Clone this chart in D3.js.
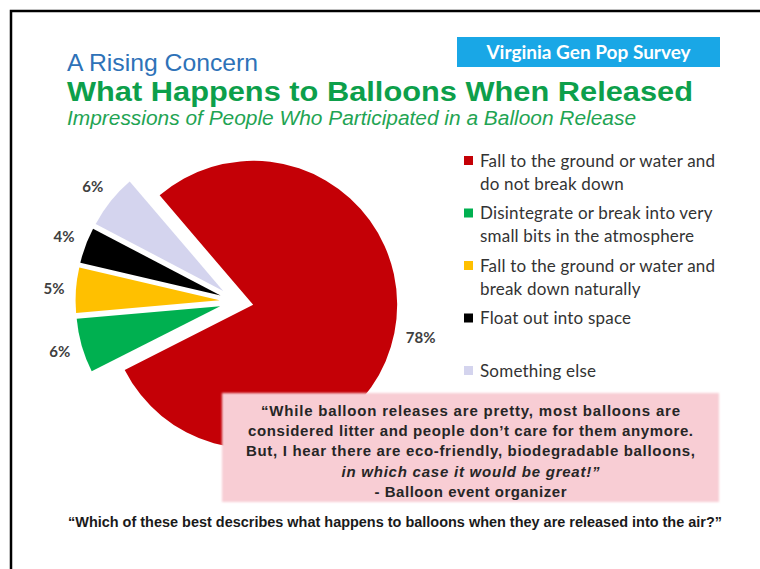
<!DOCTYPE html>
<html>
<head>
<meta charset="utf-8">
<script src="https://cdn.jsdelivr.net/npm/d3@7"></script>
<style>
  html, body { margin: 0; padding: 0; background: #fff; }
  svg { display: block; }
</style>
</head>
<body>
<script>
// Survey answers: share of respondents choosing each option (%)
const categories = [
  "Fall to the ground or water and do not break down",
  "Disintegrate or break into very small bits in the atmosphere",
  "Fall to the ground or water and break down naturally",
  "Float out into space",
  "Something else"
];
const legendLines = [
  ["Fall to the ground or water and", "do not break down"],
  ["Disintegrate or break into very", "small bits in the atmosphere"],
  ["Fall to the ground or water and", "break down naturally"],
  ["Float out into space"],
  ["Something else"]
];
const values = [78, 6, 5, 4, 6];
const sliceColors = ["#c40006", "#00b050", "#ffc000", "#000000", "#d4d4ee"];

const quoteLines = [
  "\u201CWhile balloon releases are pretty, most balloons are",
  "considered litter and people don\u2019t care for them anymore.",
  "But, I hear there are eco-friendly, biodegradable balloons,",
  "in which case it would be great!\u201D",
  "- Balloon event organizer"
];
// set widths of the quote lines, in px
const quoteWidths = [419, 445, 449, 258, 192];
const question = "\u201CWhich of these best describes what happens to balloons when they are released into the air?\u201D";

const W = 760, H = 569;
const svg = d3.select("body").append("svg").attr("width", W).attr("height", H);

// slide frame
svg.append("path")
  .attr("d", `M11,${H} V11 H${W}`)
  .attr("fill", "none").attr("stroke", "#000").attr("stroke-width", 2.5);

// headings
svg.append("text").attr("x", 67).attr("y", 71)
  .attr("font-family", "'Liberation Sans', Arial, sans-serif")
  .attr("font-size", 24).attr("fill", "#2e72b8")
  .attr("textLength", 191).attr("lengthAdjust", "spacingAndGlyphs")
  .text("A Rising Concern");

svg.append("text").attr("x", 67).attr("y", 101)
  .attr("font-family", "'Liberation Sans', Arial, sans-serif")
  .attr("font-weight", "bold").attr("font-size", 27).attr("fill", "#0d9f4b")
  .attr("textLength", 626).attr("lengthAdjust", "spacingAndGlyphs")
  .text("What Happens to Balloons When Released");

svg.append("text").attr("x", 67).attr("y", 125)
  .attr("font-family", "'Liberation Sans Narrow', 'Arial Narrow', 'Liberation Sans', sans-serif")
  .attr("font-style", "italic").attr("font-size", 20).attr("fill", "#1fa453")
  .attr("textLength", 569).attr("lengthAdjust", "spacingAndGlyphs")
  .text("Impressions of People Who Participated in a Balloon Release");

// survey badge
svg.append("rect").attr("x", 457).attr("y", 37).attr("width", 263).attr("height", 30)
  .attr("fill", "#19a7e6");
svg.append("text").attr("x", 588.5).attr("y", 58.5)
  .attr("text-anchor", "middle")
  .attr("font-family", "Lato, 'Open Sans', sans-serif")
  .attr("font-weight", "bold").attr("font-size", 19).attr("fill", "#fff")
  .text("Virginia Gen Pop Survey");

// exploded pie
const cx = 236.5, cy = 301.5, R = 144, explode = 17;
const start = -40.5 * Math.PI / 180;
const pie = d3.pie().sort(null).value(d => d)
  .startAngle(start).endAngle(start + 2 * Math.PI);
const arc = d3.arc().innerRadius(0).outerRadius(R);
const arcs = pie(values);

const slices = svg.append("g");
arcs.forEach((a, i) => {
  const mid = (a.startAngle + a.endAngle) / 2;
  const ox = cx + explode * Math.sin(mid), oy = cy - explode * Math.cos(mid);
  slices.append("path")
    .attr("transform", `translate(${ox},${oy})`)
    .attr("d", arc(a))
    .attr("fill", sliceColors[i]);

  const lbl = svg.append("text")
    .attr("font-family", "Lato, 'Open Sans', sans-serif")
    .attr("font-weight", "bold").attr("font-size", 15).attr("fill", "#404040")
    .attr("text-anchor", "middle")
    .text(values[i] + "%");
  const bw = lbl.node().getComputedTextLength();
  const dist = R + 11 + (bw / 2) * Math.abs(Math.sin(mid)) + 6 * Math.abs(Math.cos(mid));
  lbl.attr("x", ox + dist * Math.sin(mid))
     .attr("y", oy - dist * Math.cos(mid) + 5);
});

// legend
const legend = svg.append("g");
legendLines.forEach((lines, i) => {
  const y0 = 160.5 + i * 52.5;
  legend.append("rect").attr("x", 464).attr("y", y0 - 4.5)
    .attr("width", 9).attr("height", 9).attr("fill", sliceColors[i]);
  lines.forEach((ln, j) => {
    legend.append("text").attr("x", 480).attr("y", y0 + 6 + j * 23)
      .attr("font-family", "Lato, 'Open Sans', sans-serif")
      .attr("font-size", 17).attr("letter-spacing", 0.2).attr("fill", "#333")
      .text(ln);
  });
});

// quote panel
const defs = svg.append("defs");
defs.append("filter").attr("id", "soft")
  .attr("x", "-5%").attr("y", "-10%").attr("width", "110%").attr("height", "120%")
  .append("feGaussianBlur").attr("stdDeviation", 1.3);
svg.append("rect").attr("x", 222).attr("y", 393).attr("width", 497).attr("height", 109)
  .attr("fill", "#f8cdd4").attr("filter", "url(#soft)");

quoteLines.forEach((ln, i) => {
  svg.append("text").attr("x", 470.5).attr("y", 415.5 + i * 20.4)
    .attr("text-anchor", "middle")
    .attr("font-family", "'Liberation Sans', Arial, sans-serif")
    .attr("font-weight", "bold").attr("font-size", 15).attr("fill", "#262626")
    .attr("font-style", i === 3 ? "italic" : "normal")
    .attr("textLength", quoteWidths[i]).attr("lengthAdjust", "spacing")
    .text(ln);
});

// survey question
svg.append("text").attr("x", 68).attr("y", 527)
  .attr("font-family", "'Liberation Sans Narrow', 'Arial Narrow', 'Liberation Sans', sans-serif")
  .attr("font-weight", "bold").attr("font-size", 15).attr("fill", "#1a1a1a")
  .attr("textLength", 654).attr("lengthAdjust", "spacingAndGlyphs")
  .text(question);
</script>
</body>
</html>
